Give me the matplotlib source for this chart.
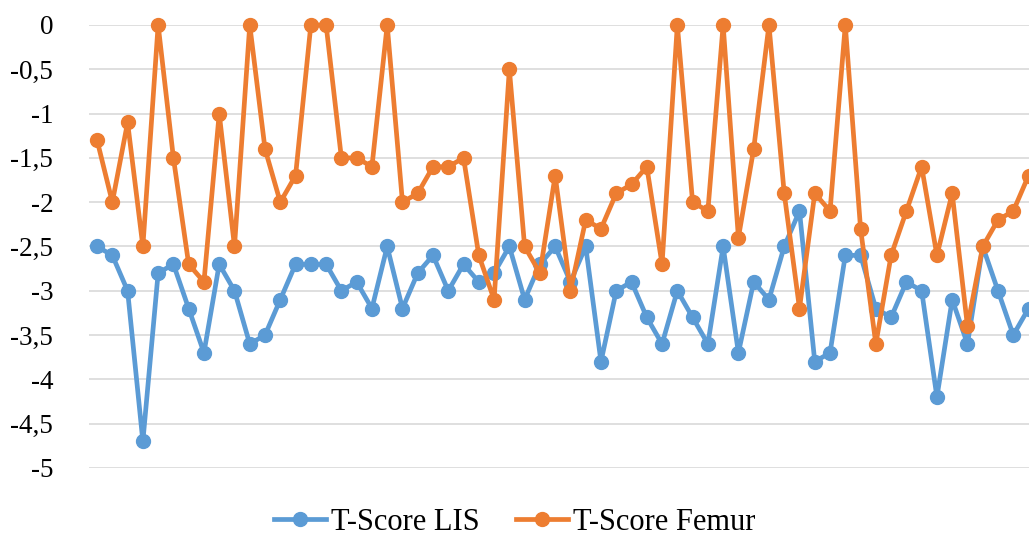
import matplotlib.pyplot as plt

# T-Score values per patient
t_score_lis = [-2.5, -2.6, -3.0, -4.7, -2.8, -2.7, -3.2, -3.7, -2.7, -3.0,
               -3.6, -3.5, -3.1, -2.7, -2.7, -2.7, -3.0, -2.9, -3.2, -2.5,
               -3.2, -2.8, -2.6, -3.0, -2.7, -2.9, -2.8, -2.5, -3.1, -2.7,
               -2.5, -2.9, -2.5, -3.8, -3.0, -2.9, -3.3, -3.6, -3.0, -3.3,
               -3.6, -2.5, -3.7, -2.9, -3.1, -2.5, -2.1, -3.8, -3.7, -2.6,
               -2.6, -3.2, -3.3, -2.9, -3.0, -4.2, -3.1, -3.6, -2.5, -3.0,
               -3.5, -3.2]
t_score_femur = [-1.3, -2.0, -1.1, -2.5, 0.0, -1.5, -2.7, -2.9, -1.0, -2.5,
                 0.0, -1.4, -2.0, -1.7, 0.0, 0.0, -1.5, -1.5, -1.6, 0.0,
                 -2.0, -1.9, -1.6, -1.6, -1.5, -2.6, -3.1, -0.5, -2.5, -2.8,
                 -1.7, -3.0, -2.2, -2.3, -1.9, -1.8, -1.6, -2.7, 0.0, -2.0,
                 -2.1, 0.0, -2.4, -1.4, 0.0, -1.9, -3.2, -1.9, -2.1, 0.0,
                 -2.3, -3.6, -2.6, -2.1, -1.6, -2.6, -1.9, -3.4, -2.5, -2.2,
                 -2.1, -1.7]
y_ticks = [0, -0.5, -1, -1.5, -2, -2.5, -3, -3.5, -4, -4.5, -5]
y_labels = [f"{v:g}".replace(".", ",") for v in y_ticks]

plt.rcParams['font.family'] = ['Liberation Serif', 'DejaVu Serif']

fig = plt.figure(figsize=(10.29, 5.36), dpi=100)
ax = fig.add_axes([0.0869, 0.1269, 0.9131, 0.8265])

x = list(range(len(t_score_lis)))
ax.plot(x, t_score_lis, color='#5B9BD5', linewidth=3.4, marker='o',
        markersize=10, label='T-Score LIS', clip_on=False, zorder=3)
ax.plot(x, t_score_femur, color='#ED7D31', linewidth=3.4, marker='o',
        markersize=10, label='T-Score Femur', clip_on=False, zorder=4)

ax.set_ylim(-5, 0)
ax.set_xlim(-0.5, len(x) - 0.97)
ax.set_yticks(y_ticks)
ax.set_yticklabels(y_labels, fontsize=19.5)
ax.set_xticks([])
ax.tick_params(axis='y', length=0, pad=26)
ax.grid(axis='y', color='#D9D9D9', linewidth=1.2)
ax.set_axisbelow(True)
for side in ax.spines.values():
    side.set_visible(False)

fig.legend(loc='center', bbox_to_anchor=(0.5, 0.026), ncol=2,
           frameon=False, fontsize=22, handlelength=1.7,
           handletextpad=0.16, columnspacing=1.2)

plt.savefig('out.png', dpi=100)
